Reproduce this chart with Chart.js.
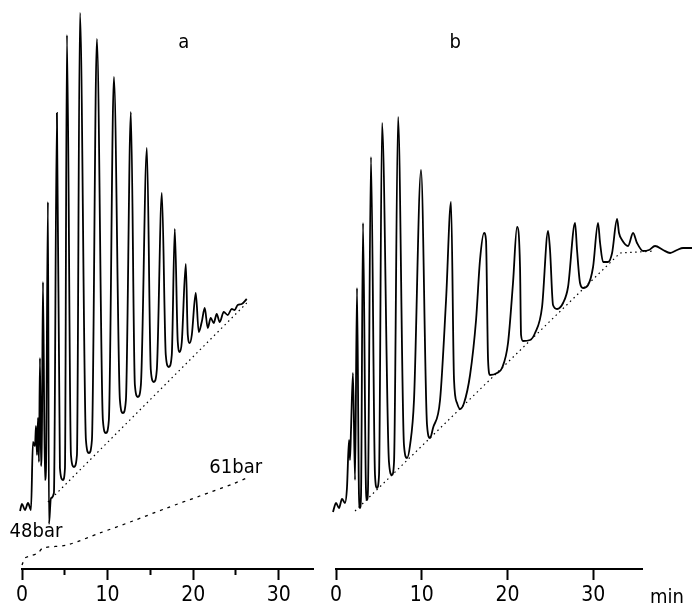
<!DOCTYPE html>
<html>
<head>
<meta charset="utf-8">
<script src="https://cdn.jsdelivr.net/npm/chart.js@4.4.0/dist/chart.umd.min.js"></script>
<style>
  html, body { margin: 0; padding: 0; background: #fff; }
  #wrap { position: relative; width: 692px; height: 606px; }
  canvas { position: absolute; top: 0; }
  #chartA { left: 0; }
  #chartB { left: 320px; }
</style>
</head>
<body>
<div id="wrap">
  <canvas id="chartA" width="320" height="606"></canvas>
  <canvas id="chartB" width="372" height="606"></canvas>
</div>
<script>
// run a: time (min) and detector signal
var aTime = [-0.23, 0, 0.35, 0.70, 1.05, 1.28, 1.52, 1.63, 1.75, 1.87, 1.98, 2.10, 2.22, 2.33, 2.45, 2.68, 2.80, 3.03, 3.15, 3.38,
  3.73, 4.08, 4.43, 4.78, 5.02, 5.25, 5.72, 6.07, 6.42, 6.77, 7.47, 7.82, 8.17, 8.75, 9.45, 9.80, 10.15, 10.74, 11.44, 11.79,
  12.14, 12.72, 13.19, 13.54, 13.89, 14.59, 15.05, 15.40, 15.75, 16.34, 16.80, 17.15, 17.50, 17.85, 18.20, 18.44, 18.67, 19.14,
  19.37, 19.60, 19.84, 20.30, 20.65, 21.00, 21.35, 21.70, 22.05, 22.40, 22.75, 23.10, 23.57, 24.04, 24.50, 24.85, 25.20, 25.67, 26.26];
var aSignal = [11.6, 13.0, 11.8, 13.2, 11.8, 25.4, 24.6, 28.6, 22.8, 30.2, 21.4, 42.2, 20.6, 27.8, 57.4, 17.8, 19.8, 73.4, 9.0, 14.2,
  15.2, 91.2, 20.2, 17.8, 20.2, 106.8, 22.8, 20.4, 22.8, 111.2, 25.8, 23.2, 25.8, 106.0, 29.8, 27.2, 29.8, 98.4, 33.8, 31.2,
  33.8, 91.4, 36.8, 34.4, 36.8, 84.2, 39.8, 37.4, 39.8, 75.2, 42.8, 40.4, 42.8, 68.0, 45.4, 43.4, 45.4, 61.0,
  46.8, 45.2, 46.8, 55.2, 47.4, 49.4, 52.2, 48.2, 50.2, 49.2, 51.0, 49.4, 51.4, 50.8, 52.0, 51.8, 52.8, 53.0, 54.0];
var aBaseTime = [3.03, 26.26];
var aBaseSignal = [13.4, 53.2];
// pressure programme of run a (48 bar -> 61 bar)
var aPressTime = [0, 0.35, 0.93, 1.87, 2.45, 5.25, 9.10, 12.95, 16.92, 20.77, 24.62, 26.26];
var aPressTrace = [0.8, 2.2, 2.6, 3.2, 4.2, 4.8, 7.2, 9.6, 12.2, 14.6, 17.0, 18.2];

// run b
var bTime = [-0.35, 0, 0.35, 0.70, 1.05, 1.28, 1.52, 1.63, 1.75, 1.98, 2.22, 2.45, 2.68, 2.80, 2.92, 3.15, 3.50, 3.62, 3.73, 4.08,
  4.55, 4.78, 5.02, 5.37, 6.18, 6.53, 6.77, 7.24, 7.93, 8.29, 8.64, 9.10, 9.92, 10.62, 10.97, 11.32, 12.14, 12.84, 13.42, 13.77,
  14.12, 14.47, 14.94, 15.64, 16.34, 16.80, 17.27, 17.50, 17.74, 17.97, 18.79, 19.37, 20.07, 20.65, 21.12, 21.47, 21.59, 21.82,
  22.64, 23.22, 24.04, 24.74, 24.97, 25.32, 25.79, 26.49, 27.07, 27.89, 28.12, 28.47, 28.82, 29.41, 29.99, 30.57, 30.81, 31.16,
  31.74, 32.21, 32.79, 33.02, 33.37, 34.07, 34.66, 35.12, 35.82, 36.52, 37.22, 38.16, 38.98, 39.79, 40.49, 41.54];
var bSignal = [11.4, 13.2, 12.2, 14.0, 13.2, 16.2, 25.8, 21.8, 27.8, 39.2, 17.8, 56.2, 14.8, 12.2, 14.8, 69.2, 15.8, 13.8, 15.8, 82.4,
  18.8, 16.2, 18.8, 89.2, 21.4, 18.8, 21.4, 90.4, 24.8, 22.2, 24.8, 33.8, 79.8, 28.8, 26.2, 28.2, 33.8, 53.8, 73.4, 37.8,
  33.2, 32.0, 33.2, 38.8, 49.8, 61.8, 67.2, 65.8, 41.8, 38.8, 39.2, 40.2, 45.2, 57.2, 68.4, 60.4, 46.8, 45.6,
  45.8, 47.2, 52.4, 67.6, 63.8, 52.8, 52.0, 53.2, 56.4, 69.2, 63.8, 57.2, 56.2, 56.8, 60.4, 69.2, 65.2, 61.4,
  61.4, 63.2, 70.0, 67.2, 65.8, 64.6, 67.2, 65.2, 63.6, 63.8, 64.6, 63.8, 63.2, 63.8, 64.2, 64.2];
var bBaseTime = [2.22, 33.14, 37.22];
var bBaseSignal = [11.6, 63.2, 63.6];

var aTicks = [0, 5, 10, 15, 20, 25, 30];
var bTicks = [0, 10, 20, 30];

var FONT = '"Liberation Sans Narrow", "DejaVu Sans Condensed", "DejaVu Sans", sans-serif';

function pts(xs, ys) {
  return xs.map(function (x, i) { return { x: x, y: ys[i] }; });
}

// writes the small labels at data positions
var panelText = {
  id: 'panelText',
  afterDraw: function (chart, args, opts) {
    var ctx = chart.ctx;
    ctx.save();
    ctx.fillStyle = '#000';
    ctx.font = opts.size + 'px ' + FONT;
    ctx.textAlign = 'center';
    ctx.textBaseline = 'middle';
    opts.items.forEach(function (it) {
      ctx.fillText(it.text, chart.scales.x.getPixelForValue(it.x), chart.scales.y.getPixelForValue(it.y));
    });
    ctx.restore();
  }
};

// axis range is set after the data limits so the trace can run past the axis end
function xAxis(max, tickList) {
  return {
    type: 'linear',
    bounds: 'data',
    afterDataLimits: function (s) { s.min = 0; s.max = max; },
    afterBuildTicks: function (s) { s.ticks = tickList.map(function (v) { return { value: v }; }); },
    ticks: {
      color: '#000',
      font: { family: FONT, size: 21, lineHeight: 1 },
      padding: 5,
      maxRotation: 0,
      autoSkip: false,
      callback: function (v) { return v % 10 === 0 ? v : ''; }
    },
    grid: {
      drawOnChartArea: false,
      drawTicks: true,
      tickLength: 11,
      tickWidth: 2,
      tickColor: '#000',
      tickBorderDash: function (c) { return (c.tick && c.tick.value % 10) ? [5, 50] : []; }
    },
    border: { display: true, color: '#000', width: 2 }
  };
}

function baseOptions(max, tickList, pad, labels) {
  return {
    responsive: false,
    animation: false,
    devicePixelRatio: 1,
    layout: { padding: pad },
    plugins: {
      legend: { display: false },
      tooltip: { enabled: false },
      panelText: { size: 20, items: labels }
    },
    scales: {
      x: xAxis(max, tickList),
      y: { display: false, min: 0, max: 113.8 }
    }
  };
}

new Chart(document.getElementById('chartA').getContext('2d'), {
  type: 'line',
  data: {
    datasets: [{
      data: pts(aTime, aSignal),
      borderColor: '#000',
      borderWidth: 1.8,
      pointRadius: 0,
      cubicInterpolationMode: 'monotone',
      clip: false
    }, {
      data: pts(aBaseTime, aBaseSignal),
      borderColor: '#000',
      borderWidth: 1.2,
      borderDash: [1.5, 3.5],
      pointRadius: 0
    }, {
      data: pts(aPressTime, aPressTrace),
      borderColor: '#000',
      borderWidth: 1.3,
      borderDash: [3, 5],
      pointRadius: 0,
      tension: 0.3,
      clip: false
    }]
  },
  options: baseOptions(34, aTicks, { left: 22, right: 7, top: 0, bottom: -5 }, [
    { text: 'a', x: 18.9, y: 105.2 },
    { text: '48bar', x: 1.63, y: 7.4 },
    { text: '61bar', x: 24.97, y: 20.2 }
  ]),
  plugins: [panelText]
});

new Chart(document.getElementById('chartB').getContext('2d'), {
  type: 'line',
  data: {
    datasets: [{
      data: pts(bTime, bSignal),
      borderColor: '#000',
      borderWidth: 1.8,
      pointRadius: 0,
      cubicInterpolationMode: 'monotone',
      clip: false
    }, {
      data: pts(bBaseTime, bBaseSignal),
      borderColor: '#000',
      borderWidth: 1.2,
      borderDash: [1.5, 3.5],
      pointRadius: 0,
      clip: false
    }]
  },
  options: baseOptions(35.7, bTicks, { left: 16, right: 50, top: 0, bottom: -5 }, [
    { text: 'b', x: 13.9, y: 105.2 },
    { text: 'min', x: 38.6, y: -5.8 }
  ]),
  plugins: [panelText]
});
</script>
</body>
</html>
